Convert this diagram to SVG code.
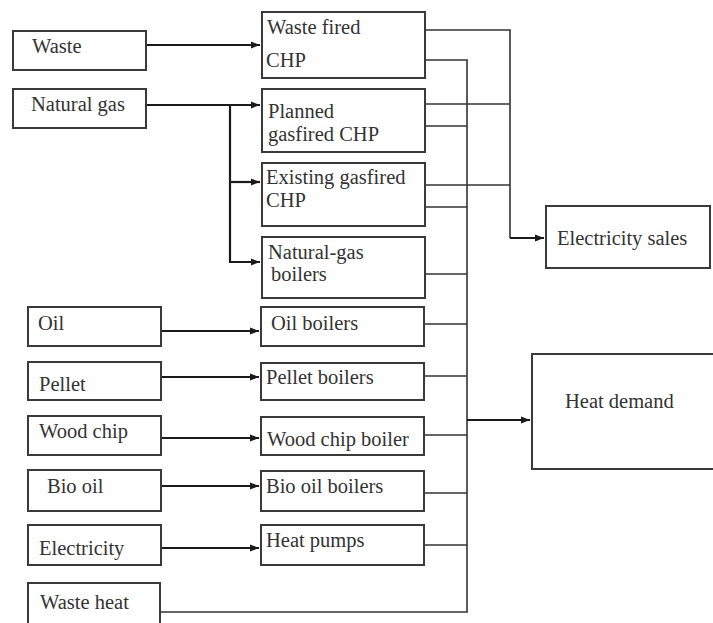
<svg xmlns="http://www.w3.org/2000/svg" width="713" height="623" viewBox="0 0 713 623">
<defs>
<marker id="arr" markerWidth="10" markerHeight="8" refX="9" refY="4" orient="auto" markerUnits="userSpaceOnUse">
<path d="M0,0.5 L9,4 L0,7.5 Z" fill="#1a1a1a"/>
</marker>
<style>
.box{fill:#fff;stroke:#3a3a3a;stroke-width:2}
.t{font-family:"Liberation Serif","Times New Roman",serif;font-size:20.5px;fill:#333}
.in{fill:none;stroke:#1a1a1a;stroke-width:2.2}
.out{fill:none;stroke:#333;stroke-width:1.6}
</style>
</defs>
<rect width="713" height="623" fill="#fff"/>
<g id="connectors">
<path class="in" d="M146,45 H260" marker-end="url(#arr)"/>
<path class="in" d="M146,105 H260" marker-end="url(#arr)"/>
<path class="in" d="M230,105 V262 H260" marker-end="url(#arr)"/>
<path class="in" d="M230,182 H260" marker-end="url(#arr)"/>
<path class="in" d="M161,331 H259" marker-end="url(#arr)"/>
<path class="in" d="M161,377 H259" marker-end="url(#arr)"/>
<path class="in" d="M161,438 H259" marker-end="url(#arr)"/>
<path class="in" d="M161,486 H259" marker-end="url(#arr)"/>
<path class="in" d="M161,548 H259" marker-end="url(#arr)"/>
<path class="out" d="M425,30 H510 V238"/>
<path class="out" d="M425,104 H510"/>
<path class="out" d="M425,185 H510"/>
<path class="in" d="M510,238 H544" marker-end="url(#arr)"/>
<path class="out" d="M425,60 H467 V612 H160"/>
<path class="out" d="M425,126 H467"/>
<path class="out" d="M425,207 H467"/>
<path class="out" d="M425,274 H467"/>
<path class="out" d="M424,324 H467"/>
<path class="out" d="M424,376 H467"/>
<path class="out" d="M424,435 H467"/>
<path class="out" d="M424,493 H467"/>
<path class="out" d="M424,545 H467"/>
<path class="in" d="M467,420 H530" marker-end="url(#arr)"/>
</g>
<g id="waste"><rect class="box" x="13" y="31" width="133" height="39"/><text class="t" x="32" y="53">Waste</text></g>
<g id="natural-gas"><rect class="box" x="13" y="89" width="133" height="39"/><text class="t" x="31" y="111">Natural gas</text></g>
<g id="oil"><rect class="box" x="28" y="307" width="133" height="39"/><text class="t" x="38" y="330">Oil</text></g>
<g id="pellet"><rect class="box" x="28" y="362" width="133" height="38"/><text class="t" x="39" y="391">Pellet</text></g>
<g id="wood-chip"><rect class="box" x="28" y="416" width="133" height="39"/><text class="t" x="39" y="438">Wood chip</text></g>
<g id="bio-oil"><rect class="box" x="28" y="470" width="133" height="41"/><text class="t" x="47" y="493">Bio oil</text></g>
<g id="electricity"><rect class="box" x="28" y="525" width="133" height="40"/><text class="t" x="39" y="555">Electricity</text></g>
<g id="waste-heat"><rect class="box" x="28" y="583" width="132" height="50"/><text class="t" x="40" y="609">Waste heat</text></g>
<g id="waste-chp"><rect class="box" x="262" y="12" width="163" height="66"/><text class="t" x="267" y="34">Waste fired</text><text class="t" x="266" y="67">CHP</text></g>
<g id="planned-chp"><rect class="box" x="262" y="89" width="163" height="63"/><text class="t" x="268" y="118">Planned</text><text class="t" x="268" y="141">gasfired CHP</text></g>
<g id="existing-chp"><rect class="box" x="262" y="163" width="163" height="63"/><text class="t" x="266" y="184">Existing gasfired</text><text class="t" x="266" y="207">CHP</text></g>
<g id="ng-boilers"><rect class="box" x="262" y="237" width="163" height="61"/><text class="t" x="268" y="259">Natural-gas</text><text class="t" x="271" y="281">boilers</text></g>
<g id="oil-boilers"><rect class="box" x="261" y="307" width="163" height="39"/><text class="t" x="271" y="330">Oil boilers</text></g>
<g id="pellet-boilers"><rect class="box" x="261" y="363" width="163" height="37"/><text class="t" x="266" y="384">Pellet boilers</text></g>
<g id="wood-chip-boiler"><rect class="box" x="261" y="417" width="163" height="38"/><text class="t" x="267" y="446">Wood chip boiler</text></g>
<g id="bio-oil-boilers"><rect class="box" x="261" y="471" width="163" height="40"/><text class="t" x="266" y="493">Bio oil boilers</text></g>
<g id="heat-pumps"><rect class="box" x="261" y="525" width="163" height="40"/><text class="t" x="266" y="547">Heat pumps</text></g>
<g id="electricity-sales"><rect class="box" x="546" y="206" width="164" height="62"/><text class="t" x="557" y="245">Electricity sales</text></g>
<g id="heat-demand"><rect class="box" x="532" y="354" width="200" height="115"/><text class="t" x="565" y="408">Heat demand</text></g>
</svg>
